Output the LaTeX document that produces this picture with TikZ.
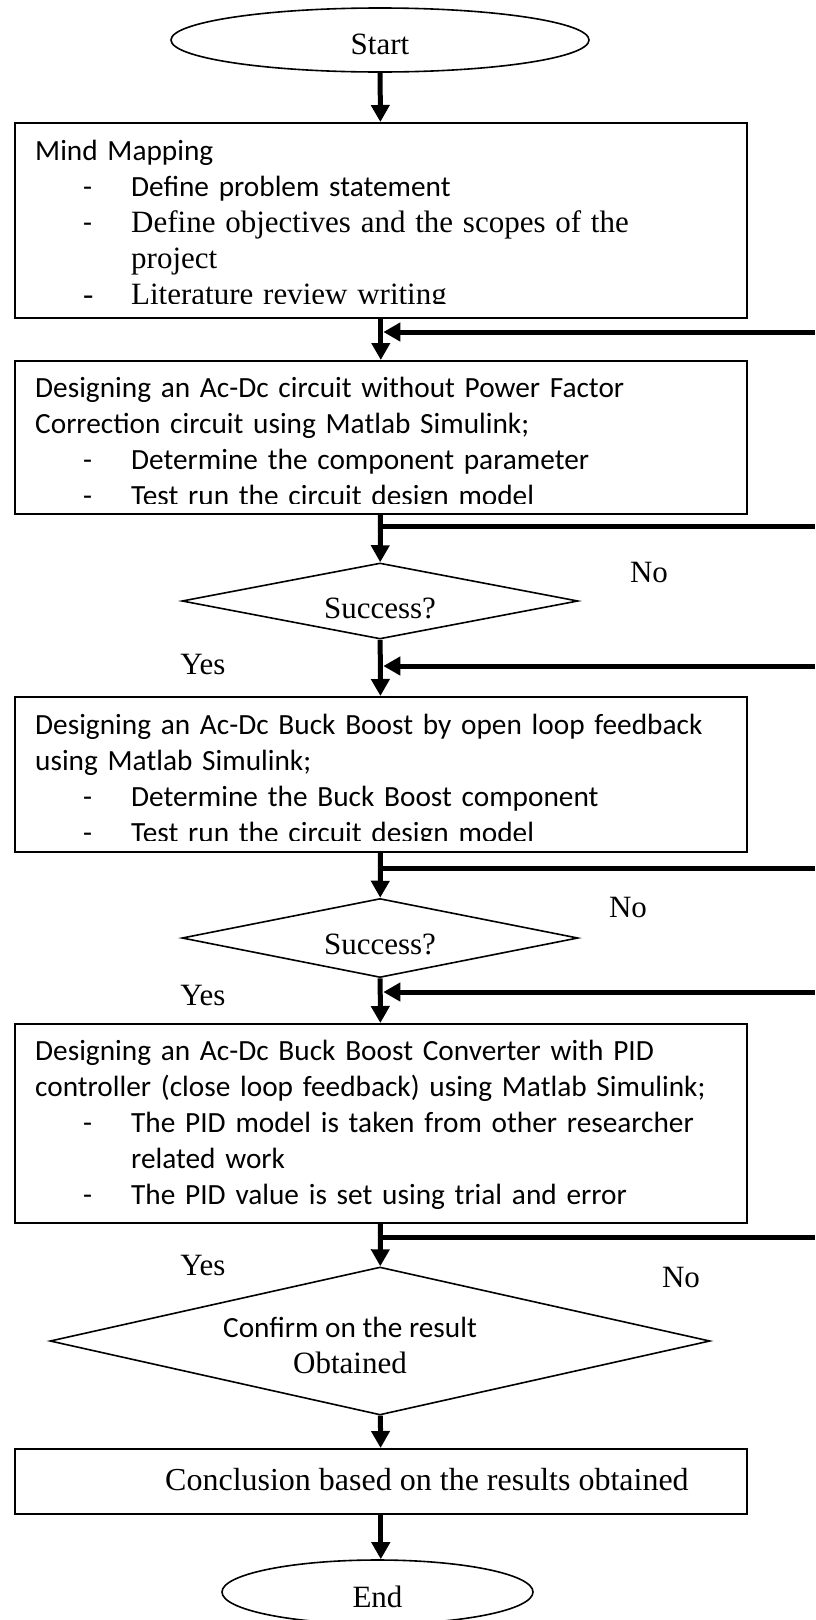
\documentclass[tikz,border=0pt]{standalone}
\usepackage{fontspec}
\setmainfont{Liberation Serif}
\newfontfamily\calibri{Carlito}
\usetikzlibrary{shapes.geometric,arrows.meta}

\newcommand{\cfont}{\calibri\fontsize{29.3}{36}\selectfont}
\newcommand{\tfont}{\rmfamily\fontsize{31}{36}\selectfont}
\newcommand{\bitem}[1]{\par\hangindent=96pt\relax\hangafter=1\relax\noindent\makebox[96pt][l]{\hspace*{48pt}-}#1}
\lineskiplimit=-50pt\relax

\tikzstyle{terminal} = [ellipse, draw=black, line width=1.6pt, inner sep=0pt, minimum height=64pt]
\tikzstyle{process} = [rectangle, draw=black, line width=1.6pt, inner sep=0pt, anchor=north west, minimum width=732pt]
\tikzstyle{decision} = [diamond, draw=black, line width=1.6pt, inner sep=0pt]
\tikzstyle{boxtext} = [anchor=base west, inner sep=0pt, text width=720pt, align=left, font=\cfont]
\tikzstyle{flow} = [line width=5pt, -{Triangle[width=18pt,length=17pt]}]
\tikzstyle{branch} = [line width=5pt]
\tikzstyle{answer} = [anchor=base, inner sep=0pt]

\begin{document}
\begin{tikzpicture}[x=1pt, y=-1pt, font=\tfont]
	\useasboundingbox (0,0) rectangle (815,1620);
	% shapes
	\node[terminal, minimum width=418pt] (start) at (380,40) {};
	\node[process, minimum height=195pt] (b1) at (14,122) {};
	\node[process, minimum height=153pt] (b2) at (14,360) {};
	\node[decision, minimum width=396pt, minimum height=76pt] (d1) at (380,601) {};
	\node[process, minimum height=155pt] (b3) at (14,696) {};
	\node[decision, minimum width=396pt, minimum height=79pt] (d2) at (380,938) {};
	\node[process, minimum height=199pt] (b4) at (14,1023) {};
	\node[decision, minimum width=660pt, minimum height=148pt] (d3) at (380,1341) {};
	\node[process, minimum height=65pt] (b5) at (14,1448) {};
	\node[terminal, minimum width=311pt] (end) at (377.5,1592) {};
	\node[answer] (starttxt) at (380,54) {Start};
	\node[answer] (endtxt) at (377.5,1607) {End};
	% box texts
	\begin{scope}
		\clip (14,122) rectangle (746,303);
		\node[boxtext] (t1) at (35,160) {Mind Mapping
			\bitem{Define problem statement}
			\bitem{\tfont Define objectives and the scopes of the\newline project}
			\bitem{\tfont Literature review writing}};
	\end{scope}
	\begin{scope}
		\clip (14,360) rectangle (746,503);
		\node[boxtext] (t2) at (35,397) {Designing an Ac-Dc circuit without Power Factor\\Correction circuit using Matlab Simulink;
			\bitem{Determine the component parameter}
			\bitem{Test run the circuit design model}};
	\end{scope}
	\begin{scope}
		\clip (14,696) rectangle (746,840);
		\node[boxtext] (t3) at (35,734) {Designing an Ac-Dc Buck Boost by open loop feedback\\using Matlab Simulink;
			\bitem{Determine the Buck Boost component}
			\bitem{Test run the circuit design model}};
	\end{scope}
	\node[boxtext] (t4) at (35,1060) {Designing an Ac-Dc Buck Boost Converter with PID\\controller (close loop feedback) using Matlab Simulink;
		\bitem{The PID model is taken from other researcher\newline related work}
		\bitem{The PID value is set using trial and error}};
	\node[anchor=base west, inner sep=0pt, font=\rmfamily\fontsize{32}{36}\selectfont] (t5) at (165,1490) {Conclusion based on the results obtained};
	% decision texts
	\node[answer] (q1) at (380,618) {Success?};
	\node[answer] (q2) at (380,954) {Success?};
	\node[answer, font=\cfont] (q3a) at (350,1337) {Confirm on the result};
	\node[answer] (q3b) at (350,1373) {Obtained};
	\node[answer] (no1) at (649,582) {No};
	\node[answer] (yes1) at (203,674) {Yes};
	\node[answer] (no2) at (628,917) {No};
	\node[answer] (yes2) at (203,1005) {Yes};
	\node[answer] (no3) at (681,1287) {No};
	\node[answer] (yes3) at (203,1275) {Yes};
	% right edge ends
	\coordinate (r1) at (815,332);
	\coordinate (s1) at (815,526);
	\coordinate (r2) at (815,666);
	\coordinate (s2) at (815,868);
	\coordinate (r3) at (815,992);
	\coordinate (s3) at (815,1237);
	% main line
	\draw[flow] (start) -- (b1);
	\draw[flow] (b1) -- (b2);
	\draw[flow] (b2) -- (d1);
	\draw[flow] (d1) -- (b3);
	\draw[flow] (b3) -- (d2);
	\draw[flow] (d2) -- (b4);
	\draw[flow] (b4) -- (d3);
	\draw[flow] (d3) -- (b5);
	\draw[flow] (b5.south) -- (b5.south |- end.north);
	% loops
	\draw[flow, shorten >=2.5pt] (r1) -- (r1 -| b1.south);
	\draw[branch] (s1 -| b2.south) -- (s1);
	\draw[flow, shorten >=2.5pt] (r2) -- (r2 -| b3.north);
	\draw[branch] (s2 -| b3.south) -- (s2);
	\draw[flow, shorten >=2.5pt] (r3) -- (r3 -| b4.north);
	\draw[branch] (s3 -| b4.south) -- (s3);
\end{tikzpicture}
\end{document}
